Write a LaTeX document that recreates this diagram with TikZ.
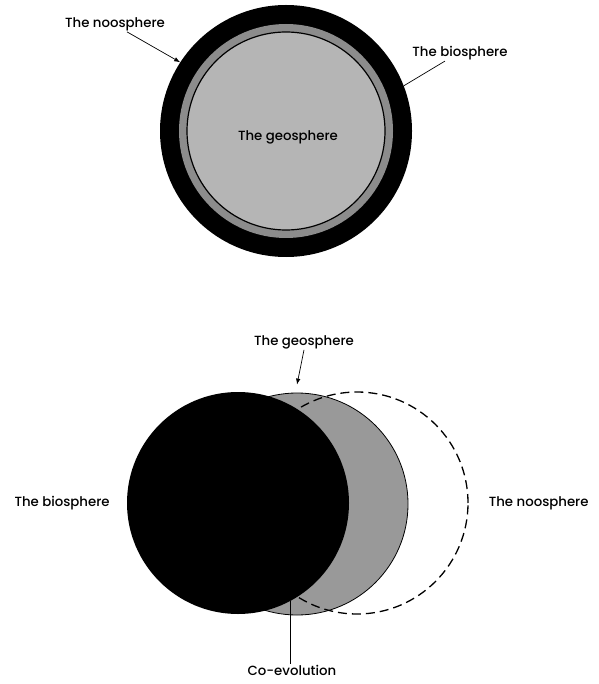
\documentclass[tikz,border=0pt]{standalone}
\usepackage{fontspec}
\setmainfont{Poppins}[UprightFont=* Medium]
\usetikzlibrary{arrows.meta,positioning,calc}

\definecolor{geoGray}{gray}{0.71}
\definecolor{ringGray}{gray}{0.55}
\definecolor{midGray}{gray}{0.60}

\begin{document}
\begin{tikzpicture}[
    x=1pt, y=-1pt,
    font=\fontsize{13.3}{16}\selectfont,
    sphereBox/.style={
        circle, inner sep=0pt, minimum size=222pt
    },
    labelTxt/.style={
        inner sep=1pt
    },
    flow/.style={
        -{Latex[length=6pt, width=4.5pt]}, line width=0.7pt, draw=black
    },
    leader/.style={
        line width=0.7pt, draw=black
    }
]
\useasboundingbox (0,0) rectangle (598,684);

% Top: nested spheres
\node[circle, fill=black, inner sep=0pt, minimum size=252pt] (nooOuter) at (286,131) {};
\node[circle, fill=ringGray, inner sep=0pt, minimum size=214pt] (bioRing) at (286,131) {};
\node[circle, fill=geoGray, draw=black, line width=1.2pt, inner sep=0pt,
      minimum size=198pt] (geoCore) at (286,131) {};
\node[labelTxt] (geoTxt) at (288,137) {The geosphere};

\node[labelTxt] (nooTxt) at (115,24) {The noosphere};
\node[labelTxt] (bioTxt) at (460,53) {The biosphere};

% Bottom: overlapping spheres
\node[sphereBox, fill=midGray, draw=black, line width=0.8pt] (geoB) at (297,504) {};
\node[sphereBox, draw=black, line width=1.3pt, dash pattern=on 9pt off 5pt] (nooB) at (357,503) {};
\node[sphereBox, fill=black] (bioB) at (238,503) {};

\node[labelTxt, left=16pt of bioB] (bioTxtB) {The biosphere};
\node[labelTxt, right=19pt of nooB] (nooTxtB) {The noosphere};
\node[labelTxt] (geoTxtB) at (304,342) {The geosphere};
\node[labelTxt] (coevoTxt) at (292,670) {Co-evolution};

% Flows
\draw[flow] ([xshift=12pt]nooTxt.south) -- (nooOuter.147.5);
\draw[leader] ([xshift=-15pt]bioTxt.south) -- (nooOuter.21);
\draw[flow] (geoTxtB.south) -- ([yshift=8pt]geoB.north);
\draw[leader] (bioB.-62) -- (bioB.-62 |- coevoTxt.north);

\end{tikzpicture}
\end{document}
